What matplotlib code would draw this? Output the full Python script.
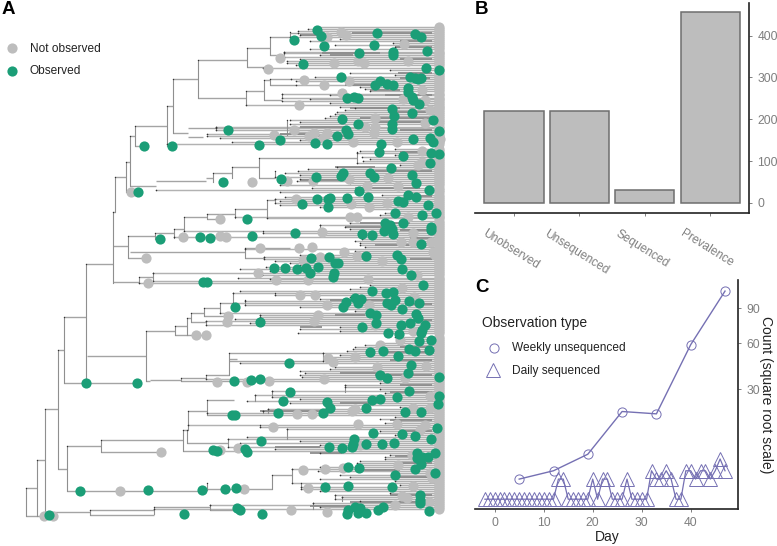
#!/usr/bin/env python3
import numpy as np
import matplotlib
matplotlib.use('Agg')
from matplotlib import pyplot as plt
from matplotlib.transforms import ScaledTranslation

plt.rcParams['font.family'] = ['Liberation Sans', 'DejaVu Sans']

GREEN = '#1b9e77'
GREY = '#bdbdbd'
PURPLE = '#7570b3'
TICK = '#7f7f7f'
TIP_X = 439
DOT = 54

# tree: inner branches (start, end, y)
stems = [(198, 247, 60), (198, 246, 98), (173, 198, 79), (173, 188, 133), (188, 216, 128), (188, 203, 137),
         (167, 173, 106), (135, 167, 126), (130, 135, 136), (135, 144, 146), (126, 130, 162), (130, 156, 186),
         (156, 206, 181), (206, 213, 178), (126, 138, 192), (115, 126, 177), (113, 115, 212), (113, 128, 246),
         (128, 155, 236), (155, 174, 233), (174, 184, 229), (184, 207, 217), (207, 235, 214), (235, 267, 209),
         (207, 220, 219), (128, 146, 258), (130, 245, 252), (86, 113, 264), (113, 139, 282), (139, 153, 277),
         (87, 146, 356), (64, 86, 317), (64, 137, 383), (146, 175, 331), (175, 187, 326), (175, 206, 335),
         (187, 191, 318), (191, 204, 313), (204, 220, 308), (220, 233, 303), (204, 228, 316), (191, 206, 322),
         (146, 150, 381), (150, 181, 380), (181, 206, 378), (206, 229, 375), (229, 237, 359), (181, 234, 381),
         (58, 64, 350), (45, 58, 409), (58, 67, 469), (67, 101, 446), (101, 183, 440), (101, 161, 452),
         (183, 188, 430), (183, 220, 451), (188, 207, 411), (207, 234, 400), (207, 235, 415), (187, 228, 443),
         (67, 202, 491), (202, 207, 490), (37, 45, 460), (26, 37, 488), (26, 49, 516), (45, 90, 512),
         (90, 154, 510), (90, 154, 515), (154, 210, 507), (210, 240, 510), (247, 270, 48), (247, 268, 67),
         (270, 290, 37), (290, 298, 33), (270, 284, 55), (246, 264, 91), (264, 270, 80), (270, 291, 79),
         (270, 296, 85), (264, 282, 100), (232, 259, 167), (213, 232, 173), (259, 357, 158), (259, 275, 178),
         (267, 275, 200), (245, 290, 248), (245, 264, 258), (272, 292, 475), (236, 272, 489), (229, 323, 353),
         (229, 323, 361), (207, 236, 489)]

# vertical connectors (x, top, bottom)
forks = [(198, 60, 98), (173, 79, 133), (167, 106, 146), (135, 126, 146), (130, 136, 186), (126, 162, 192),
         (115, 177, 212), (113, 212, 283), (128, 236, 258), (155, 233, 239), (174, 229, 238), (184, 217, 231),
         (207, 214, 219), (235, 209, 218), (139, 277, 283), (153, 273, 281), (86, 264, 383), (64, 317, 383),
         (146, 331, 381), (175, 326, 335), (187, 318, 335), (191, 313, 322), (204, 308, 316), (220, 303, 313),
         (206, 321, 325), (181, 378, 381), (206, 375, 378), (229, 353, 375), (58, 350, 469), (45, 409, 516),
         (67, 446, 491), (101, 440, 452), (183, 430, 451), (188, 411, 430), (207, 400, 415), (187, 430, 443),
         (228, 439, 447), (207, 483, 490), (37, 460, 516), (26, 488, 516), (90, 510, 515), (154, 507, 514),
         (210, 505, 510), (247, 48, 67), (270, 37, 55), (290, 32, 40), (284, 52, 58), (246, 91, 105),
         (264, 80, 100), (270, 79, 85), (282, 94, 98), (216, 127, 130), (287, 120, 135), (259, 158, 178),
         (357, 152, 163), (275, 171, 177), (232, 167, 178), (213, 173, 182), (267, 200, 218), (275, 199, 203),
         (263, 231, 233), (320, 225, 235), (245, 248, 258), (264, 257, 259), (245, 300, 305), (233, 293, 303),
         (275, 293, 295), (260, 315, 317), (323, 353, 361), (345, 385, 392), (272, 391, 397), (255, 395, 401),
         (263, 411, 413), (268, 409, 413), (287, 429, 439), (260, 425, 427), (272, 475, 489), (292, 469, 483),
         (301, 483, 489), (313, 503, 509), (335, 495, 499), (342, 497, 501)]

# branches running to the tips (start, y), clade by clade
tips_top = [(318, 27), (308, 29), (298, 31), (298, 33), (300, 35), (290, 37), (340, 39), (310, 41), (393, 43),
            (335, 45), (395, 47), (310, 49), (284, 52), (284, 53), (320, 55), (284, 57), (300, 59), (287, 61),
            (287, 63), (296, 65), (263, 68), (390, 70)]
tips_second = [(350, 73), (395, 75), (315, 77), (291, 79), (296, 81), (350, 83), (296, 85), (360, 87), (365, 89),
               (370, 91), (282, 94), (330, 95), (282, 98), (310, 99), (282, 101), (330, 103), (246, 105), (340, 107)]
tips_third = [(355, 108), (345, 110), (337, 112), (335, 114), (330, 116), (325, 118), (290, 120), (300, 122),
              (290, 124), (216, 127), (216, 128), (216, 130), (290, 132), (207, 134), (207, 136), (220, 138),
              (300, 140), (232, 142), (167, 144)]
tips_fourth = [(395, 149), (360, 151), (357, 153), (395, 155), (362, 157), (370, 159), (363, 161), (357, 163),
               (400, 165), (337, 167), (308, 169), (298, 171), (285, 173), (300, 175), (275, 177), (300, 179),
               (297, 181), (350, 183), (280, 185), (312, 188), (156, 190), (280, 192), (382, 195), (285, 197),
               (275, 199), (280, 201), (275, 203), (280, 205), (320, 207), (370, 209), (395, 211), (385, 213),
               (380, 215), (235, 217), (267, 218), (400, 221)]
tips_fifth = [(350, 223), (320, 225), (345, 227), (350, 229), (184, 231), (263, 233), (320, 235), (174, 237),
              (362, 239), (355, 241), (360, 243), (360, 245), (365, 247), (245, 249), (355, 251), (345, 253),
              (300, 255), (264, 257), (264, 259), (275, 261), (290, 263), (300, 265), (266, 267), (240, 269),
              (270, 271), (153, 273), (262, 275), (238, 278), (270, 279), (153, 281), (139, 283)]
tips_sixth = [(370, 285), (360, 287), (350, 289), (240, 291), (233, 293), (275, 295), (350, 297), (320, 299),
              (245, 301), (233, 303), (245, 305), (300, 307), (345, 309), (355, 311), (220, 313), (260, 315),
              (260, 317), (235, 319), (206, 321), (250, 323), (206, 325), (340, 327), (300, 329), (340, 331),
              (298, 333), (395, 337), (400, 339), (400, 341), (380, 343), (365, 345)]
tips_seventh = [(355, 347), (353, 349), (347, 351), (323, 353), (340, 355), (327, 357), (330, 359), (323, 361),
                (240, 363), (375, 365), (335, 367), (330, 369), (300, 371), (305, 373), (300, 375), (302, 377),
                (206, 379), (234, 381), (380, 383), (345, 385), (345, 387), (380, 389), (272, 391), (385, 393),
                (255, 395), (272, 397), (300, 399), (247, 401), (290, 403), (330, 405), (400, 407), (268, 409),
                (263, 411), (207, 413), (235, 415), (395, 417), (380, 419), (400, 421)]
tips_eighth = [(385, 423), (188, 425), (260, 427), (287, 429), (380, 431), (375, 433), (395, 435), (247, 437),
               (228, 439), (300, 441), (240, 443), (320, 445), (228, 447), (275, 449), (220, 451), (320, 453),
               (390, 455), (385, 457), (385, 459), (360, 461), (357, 463), (360, 465), (320, 467), (292, 469),
               (318, 471), (395, 473), (340, 475), (350, 477), (320, 479), (395, 481), (292, 483), (400, 485),
               (301, 487), (301, 489), (320, 491), (390, 493), (335, 495), (342, 497), (335, 499), (360, 501),
               (313, 503), (210, 505), (320, 507), (154, 509)]

# overlapping stretches that read darker (start, end, y)
dark_runs = [(352, 432, 33), (300, 330, 35), (400, 432, 41), (395, 432, 47), (322, 380, 53), (330, 353, 55),
             (400, 432, 59), (398, 432, 73), (400, 430, 78), (345, 375, 85), (370, 400, 90), (385, 432, 95),
             (350, 400, 108), (395, 432, 112), (360, 432, 118), (375, 430, 122), (300, 345, 127), (400, 432, 130),
             (280, 310, 134), (310, 345, 136), (400, 432, 152), (335, 375, 167), (375, 432, 171), (300, 340, 180),
             (355, 420, 188), (420, 432, 196), (360, 410, 223), (345, 385, 227), (400, 432, 230), (410, 432, 238),
             (375, 420, 245), (410, 432, 259), (330, 385, 300), (405, 432, 304), (335, 365, 315), (410, 432, 320),
             (300, 322, 327), (400, 432, 347), (385, 432, 352), (390, 432, 360), (340, 378, 373), (375, 432, 375),
             (400, 432, 385), (390, 432, 392), (340, 370, 403), (390, 432, 420), (260, 320, 411), (400, 432, 431),
             (275, 320, 447), (310, 342, 453), (395, 432, 456), (395, 432, 463), (360, 400, 470), (400, 432, 477),
             (390, 432, 495), (350, 420, 502), (310, 350, 506)]

green_x = [317, 321, 294, 324, 377, 374, 359, 393, 393, 415, 421, 427, 303, 426, 439, 341, 410, 415, 421, 418,
           375, 380, 387, 393, 408, 408, 412, 413, 419, 347, 354, 358, 392, 394, 412, 342, 433, 358, 392, 392,
           439, 346, 348, 337, 280, 315, 327, 259, 413, 430, 433, 381,
           379, 403, 431, 439, 430, 391, 412, 416, 370, 374, 341, 343, 316, 281, 359, 429, 317, 330, 328, 347,
           368, 302, 328, 408, 416, 398, 403, 428, 247, 395, 422, 436, 385, 390, 387, 392, 384, 393, 403, 431,
           431, 295, 252, 362, 372, 421, 311, 329, 335, 338, 366, 397, 401, 274, 285, 306, 318, 297, 402,
           411, 423, 334, 333, 310, 372, 386, 393, 409, 419, 387, 391, 395, 355, 361, 358, 346, 343, 402, 370,
           376, 416, 418, 260, 362, 376, 401, 410, 425, 422, 421, 388, 399, 431, 419, 370, 383, 409, 415, 429,
           289, 398, 411, 408, 380, 387, 439, 251, 260, 290, 409, 397, 439,
           283, 278, 327, 330, 323, 366, 372, 380, 405, 421, 438, 437, 373, 402, 415, 431, 261, 245, 247, 354,
           329, 342, 352, 353, 366, 382, 394, 417, 422, 428, 435, 417, 421, 415, 348, 359, 395, 435, 325, 348,
           392, 420, 420, 420, 383, 378, 355, 360, 348, 347, 358, 366, 429, 262, 240,
           228, 144, 172, 223, 138, 160, 200, 210, 203, 207, 235, 86, 137, 234, 232, 235, 213, 217, 80, 148,
           202, 225, 236, 49, 184, 237]
green_y = [30, 36, 40, 46, 33, 45, 53, 52, 55, 34, 37, 51, 64, 68, 70, 77, 77, 78, 78, 79,
           85, 81, 84, 85, 88, 92, 97, 100, 104, 98, 97, 98, 109, 116, 113, 119, 120, 124, 124, 129,
           131, 130, 134, 136, 140, 143, 144, 145, 139, 138, 142, 144,
           152, 156, 153, 154, 163, 168, 175, 183, 173, 177, 176, 173, 177, 179, 191, 190, 199, 198, 199, 198,
           197, 204, 207, 195, 197, 201, 202, 205, 219, 213, 215, 213, 223, 225, 228, 229, 231, 234, 223, 227,
           230, 233, 236, 234, 235, 244, 258, 257, 263, 263, 256, 255, 259, 268, 268, 268, 267, 269, 269,
           275, 285, 273, 277, 273, 291, 293, 292, 301, 303, 303, 305, 300, 298, 299, 303, 302, 307, 309, 313,
           315, 314, 318, 322, 327, 323, 325, 323, 325, 330, 333, 333, 334, 340, 341, 352, 351, 349, 351, 350,
           363, 356, 365, 373, 375, 378, 377, 380, 379, 392, 391, 397, 396,
           401, 413, 402, 408, 413, 408, 400, 399, 412, 412, 404, 428, 433, 434, 436, 439, 441, 449, 452, 439,
           447, 448, 447, 444, 444, 444, 443, 453, 457, 457, 453, 458, 464, 469, 467, 468, 475, 473, 487, 486,
           487, 495, 500, 503, 507, 510, 507, 508, 510, 514, 513, 513, 511, 514, 510,
           130, 146, 146, 182, 192, 239, 237, 238, 282, 282, 307, 383, 383, 381, 415, 415, 450, 451, 491, 490,
           490, 489, 488, 515, 514, 508]
grey_x = [341, 346, 327, 404, 280, 268, 334, 358, 364, 408, 304, 324, 349, 299, 342, 403, 375, 375, 374, 365,
          294, 274, 309, 314, 327, 323, 353, 397, 425, 422, 425, 430, 440,
          422, 418, 422, 252, 287, 313, 349, 388, 367, 398, 296, 351, 369, 387, 350, 357, 408, 322, 413, 260,
          299, 312, 344, 401, 413, 431, 433, 435, 320, 357, 382, 303,
          276, 308, 368, 258, 417, 300, 315, 327, 414, 369, 402, 318, 314, 375, 413, 380, 328, 333, 355, 426,
          377, 324, 405, 269, 247, 430, 400,
          297, 312, 355, 352, 413, 430, 273, 358, 397, 425, 420, 303, 325, 343, 398, 430, 432, 308, 413, 244,
          402, 407, 395, 429, 291, 327, 360, 412,
          131, 220, 183, 220, 226, 146, 148, 228, 227, 196, 206, 217, 161, 120, 44, 53, 220, 238]
grey_y = [32, 35, 37, 44, 58, 69, 63, 61, 63, 61, 80, 85, 81, 105, 93, 99, 118, 127, 133, 127,
          130, 135, 136, 133, 133, 138, 142, 142, 123, 90, 100, 110, 139,
          151, 165, 162, 182, 181, 181, 179, 178, 186, 186, 199, 204, 207, 203, 217, 217, 217, 232, 233, 248,
          248, 247, 252, 242, 242, 242, 252, 255, 257, 256, 261, 260,
          280, 280, 279, 273, 275, 295, 295, 305, 297, 305, 288, 315, 321, 325, 331, 345, 358, 362, 357, 366,
          367, 379, 378, 381, 382, 396, 340,
          414, 414, 409, 411, 408, 408, 427, 424, 424, 425, 430, 470, 469, 468, 465, 473, 478, 488, 486, 489,
          496, 498, 505, 502, 510, 512, 445, 455,
          192, 219, 237, 236, 237, 258, 283, 316, 322, 335, 335, 382, 452, 491, 516, 516, 450, 448]

# panel B
count_labels = ['Unobserved', 'Unsequenced', 'Sequenced', 'Prevalence']
count_values = [221, 219, 31, 457]
count_ticks = [0, 100, 200, 300, 400]

# panel C
weekly_days = [5, 12, 19, 26, 33, 40, 47]
weekly_counts = [1, 2, 5, 19, 18, 59, 107]
daily_days = [-2, -1, 0, 1, 2, 3, 4, 5, 6, 7, 8, 9, 10, 11, 12, 13, 14, 15, 16, 17, 18, 19, 20, 21, 22, 23,
              24, 25, 26, 27, 28, 29, 30, 31, 32, 33, 34, 35, 36, 37, 38, 39, 40, 41, 42, 43, 44, 45, 46, 47]
daily_counts = [0, 0, 0, 0, 0, 0, 0, 0, 0, 0, 0, 0, 0, 0, 0, 1, 1, 0, 0, 0, 0, 0, 1, 0, 1, 1,
                0, 0, 0, 1, 0, 0, 0, 0, 2, 1, 1, 2, 1, 0, 0, 2, 2, 1, 2, 2, 1, 2, 4, 2]
day_ticks = [0, 10, 20, 30, 40]
root_ticks = [30, 60, 90]


def sqrt_forward(v):
    return np.sign(v) * np.sqrt(np.abs(v))


def sqrt_inverse(v):
    return np.sign(v) * v ** 2


def px_axes(fig, left, top, right, bottom):
    W, H = 777.0, 546.0
    return fig.add_axes([left / W, 1 - bottom / H, (right - left) / W, (bottom - top) / H])


def style_panel(ax):
    ax.yaxis.tick_right()
    ax.yaxis.set_label_position('right')
    for side in ['left', 'top']:
        ax.spines[side].set_visible(False)
    for side in ['right', 'bottom']:
        ax.spines[side].set_linewidth(1.2)
        ax.spines[side].set_color('#222222')
    ax.tick_params(colors=TICK, labelsize=8.7, length=2.5, width=0.7)


def draw_tree(ax):
    tips = tips_top + tips_second + tips_third + tips_fourth + tips_fifth + tips_sixth + tips_seventh + tips_eighth
    for x0, y in tips:
        ax.plot([x0, TIP_X], [y, y], color='#b2b2b2', lw=1.05, solid_capstyle='butt', zorder=1)
    for x0, x1, y in stems:
        ax.plot([x0, x1], [y, y], color='#a4a4a4', lw=1.0, solid_capstyle='butt', zorder=1)
    for x, y0, y1 in forks:
        ax.plot([x, x], [y0, y1], color='#8f8f8f', lw=0.8, zorder=1)
    for x0, x1, y in dark_runs:
        ax.plot([x0, x1], [y, y], color='#8c8c8c', lw=1.3, solid_capstyle='butt', zorder=1.2)
    # small dark ticks where branches split
    ax.scatter([t[0] for t in tips], [t[1] for t in tips], s=1.4, color='#333333', lw=0, zorder=1.5)
    ax.scatter([f[0] for f in forks], [f[1] for f in forks], s=1.0, color='#333333', lw=0, zorder=1.5)
    ax.scatter([TIP_X] * len(tips), [t[1] for t in tips], s=DOT, color=GREY, lw=0, zorder=2)
    ax.scatter(grey_x, grey_y, s=DOT, color=GREY, lw=0, zorder=3)
    ax.scatter(green_x, green_y, s=DOT, color=GREEN, lw=0, zorder=4)


def main():
    fig = plt.figure(figsize=(7.77, 5.46), dpi=100)

    ax_b = px_axes(fig, 475, 3, 749, 213)
    ax_b.bar(np.arange(1, 5), count_values, width=0.905, color=GREY, edgecolor='#6e6e6e', linewidth=1.1)
    ax_b.set_xlim(0.404, 4.593)
    ax_b.set_ylim(-23.9, 478)
    ax_b.set_xticks(np.arange(1, 5))
    ax_b.set_yticks(count_ticks)
    style_panel(ax_b)
    ax_b.set_xticklabels(count_labels, rotation=-32, ha='center', va='top', fontsize=8.6)
    ax_b.tick_params(axis='x', pad=8)
    shift = ScaledTranslation(-0.03, 0, fig.dpi_scale_trans)
    for label in ax_b.get_xticklabels():
        label.set_transform(label.get_transform() + shift)

    ax_c = px_axes(fig, 475, 280, 738, 509)
    ax_c.set_yscale('function', functions=(sqrt_forward, sqrt_inverse))
    ax_c.plot(weekly_days, weekly_counts, color=PURPLE, lw=1.0, marker='o', ms=6.6, mfc='none', mew=0.7, zorder=3)
    ax_c.plot(daily_days, daily_counts, color=PURPLE, lw=0.9, zorder=2)
    ax_c.plot(daily_days, daily_counts, ls='none', marker='^', ms=9.5, mfc='none', mec=PURPLE, mew=0.7, zorder=2)
    ax_c.set_xlim(-4.02, 49.65)
    ax_c.set_ylim(-0.237, 118.7)
    ax_c.set_xticks(day_ticks)
    ax_c.set_yticks(root_ticks)
    ax_c.minorticks_off()
    style_panel(ax_c)

    # everything else is placed in picture pixels
    ax = fig.add_axes([0, 0, 1, 1], facecolor='none')
    ax.set_xlim(0, 777)
    ax.set_ylim(546, 0)
    ax.axis('off')
    draw_tree(ax)

    ax.scatter([12], [48], s=DOT, color=GREY, lw=0)
    ax.scatter([12], [71], s=DOT, color=GREEN, lw=0)
    ax.text(30, 48.5, 'Not observed', fontsize=8.6, va='center', color='#222222')
    ax.text(30, 71.5, 'Observed', fontsize=8.6, va='center', color='#222222')

    ax.text(2, 9, 'A', fontsize=13.5, fontweight='bold', va='center')
    ax.text(475, 9, 'B', fontsize=13.5, fontweight='bold', va='center')
    ax.text(475, 287, 'C', fontsize=13.5, fontweight='bold', va='center')

    ax.text(482, 323, 'Observation type', fontsize=10, va='center', color='#222222')
    ax.plot([494], [348], marker='o', ms=6.6, mfc='none', mec=PURPLE, mew=0.7)
    ax.plot([493], [370], marker='^', ms=9.5, mfc='none', mec=PURPLE, mew=0.7)
    ax.text(512, 348, 'Weekly unsequenced', fontsize=8.6, va='center', color='#222222')
    ax.text(512, 371, 'Daily sequenced', fontsize=8.6, va='center', color='#222222')

    ax.text(607, 537, 'Day', fontsize=10, ha='center', va='center', color='#222222')
    ax.text(766, 395, 'Count (square root scale)', fontsize=10, rotation=-90, ha='center', va='center',
            color='#222222')

    fig.savefig('out.png', dpi=100)


if __name__ == '__main__':
    main()
